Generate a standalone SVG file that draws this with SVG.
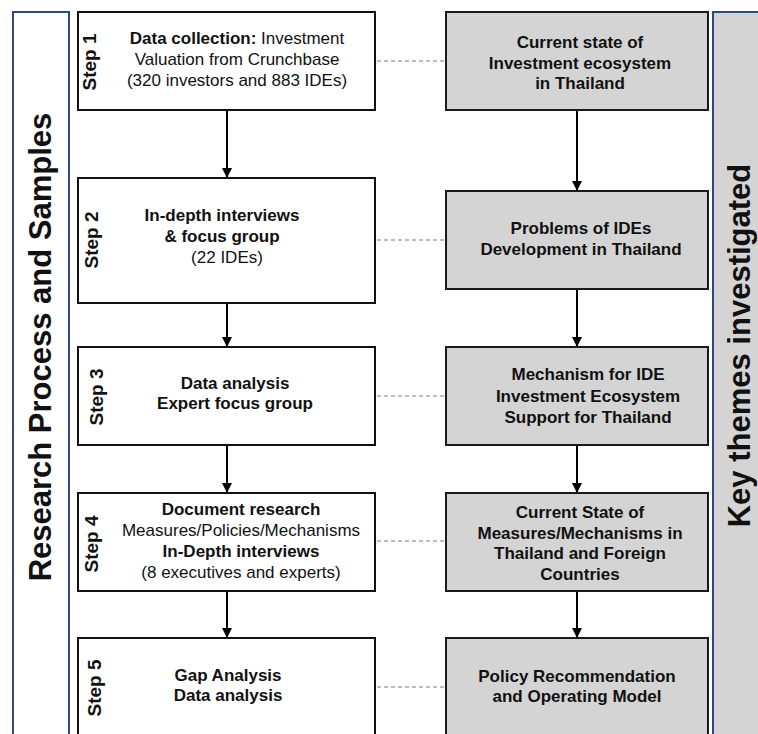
<svg xmlns="http://www.w3.org/2000/svg" width="758" height="734" viewBox="0 0 758 734">
<style>
text{font-family:"Liberation Sans",Arial,sans-serif;fill:#111}
.t{font-size:17px;text-anchor:middle}
.b{font-weight:bold}
.step{font-size:19px;font-weight:bold;text-anchor:middle}
.title{font-size:31px;font-weight:bold;text-anchor:middle}
.wbox{fill:#fff;stroke:#111;stroke-width:2}
.gbox{fill:#d4d4d4;stroke:#1a1a1a;stroke-width:2}
.panel{stroke:#2f4b7c;stroke-width:2}
.arrow{stroke:#000;stroke-width:2;fill:none;marker-end:url(#ah)}
.dash{stroke:#7f7f7f;stroke-width:1.2;stroke-dasharray:4 3;fill:none}
</style>
<defs>
<marker id="ah" markerUnits="userSpaceOnUse" markerWidth="10" markerHeight="10" refX="10" refY="5" orient="auto">
<path d="M0,0 L10,5 L0,10 z" fill="#000"/>
</marker>
</defs>
<rect width="758" height="734" fill="#fff"/>
<g id="panel-left">
<rect class="panel" x="13" y="12" width="56" height="740" fill="#fff"/>
<text class="title" transform="translate(51,347) rotate(-90)">Research Process and Samples</text>
</g>
<g id="panel-right">
<rect class="panel" x="713" y="12" width="60" height="740" fill="#d4d4d4"/>
<text class="title" transform="translate(750,345.5) rotate(-90)">Key themes investigated</text>
</g>
<g id="connectors">
<line class="arrow" x1="227" y1="111" x2="227" y2="178"/>
<line class="arrow" x1="227" y1="304" x2="227" y2="347"/>
<line class="arrow" x1="227" y1="446" x2="227" y2="493"/>
<line class="arrow" x1="227" y1="592" x2="227" y2="638"/>
<line class="arrow" x1="577" y1="111" x2="577" y2="191"/>
<line class="arrow" x1="577" y1="290" x2="577" y2="347"/>
<line class="arrow" x1="577" y1="446" x2="577" y2="493"/>
<line class="arrow" x1="577" y1="592" x2="577" y2="638"/>
<line class="dash" x1="377" y1="61" x2="446" y2="61"/>
<line class="dash" x1="377" y1="240" x2="446" y2="240"/>
<line class="dash" x1="377" y1="396" x2="446" y2="396"/>
<line class="dash" x1="377" y1="541" x2="446" y2="541"/>
<line class="dash" x1="377" y1="687" x2="446" y2="687"/>
</g>
<g id="step1">
<rect class="wbox" x="78" y="12" width="297" height="98"/>
<text class="step" transform="translate(96,62) rotate(-90)">Step 1</text>
<text class="t" x="237" y="44"><tspan class="b">Data collection:</tspan> Investment</text>
<text class="t" x="237" y="65">Valuation from Crunchbase</text>
<text class="t" x="237" y="86">(320 investors and 883 IDEs)</text>
</g>
<g id="step2">
<rect class="wbox" x="78" y="178" width="297" height="125"/>
<text class="step" transform="translate(98,240) rotate(-90)">Step 2</text>
<text class="t b" x="222" y="221">In-depth interviews</text>
<text class="t b" x="222" y="242">&amp; focus group</text>
<text class="t" x="227" y="263">(22 IDEs)</text>
</g>
<g id="step3">
<rect class="wbox" x="78" y="347" width="297" height="98"/>
<text class="step" transform="translate(103,397) rotate(-90)">Step 3</text>
<text class="t b" x="235" y="389">Data analysis</text>
<text class="t b" x="235" y="409">Expert focus group</text>
</g>
<g id="step4">
<rect class="wbox" x="78" y="493" width="297" height="98"/>
<text class="step" transform="translate(98,544) rotate(-90)">Step 4</text>
<text class="t b" x="241" y="515">Document research</text>
<text class="t" x="241" y="536">Measures/Policies/Mechanisms</text>
<text class="t b" x="241" y="557">In-Depth interviews</text>
<text class="t" x="241" y="578">(8 executives and experts)</text>
</g>
<g id="step5">
<rect class="wbox" x="78" y="638" width="297" height="120"/>
<text class="step" transform="translate(101,688) rotate(-90)">Step 5</text>
<text class="t b" x="228" y="681">Gap Analysis</text>
<text class="t b" x="228" y="701">Data analysis</text>
</g>
<g id="theme1">
<rect class="gbox" x="446" y="12" width="262" height="98"/>
<text class="t b" x="580" y="48">Current state of</text>
<text class="t b" x="580" y="69">Investment ecosystem</text>
<text class="t b" x="580" y="89">in Thailand</text>
</g>
<g id="theme2">
<rect class="gbox" x="446" y="191" width="262" height="98"/>
<text class="t b" x="581" y="234">Problems of IDEs</text>
<text class="t b" x="581" y="255">Development in Thailand</text>
</g>
<g id="theme3">
<rect class="gbox" x="446" y="347" width="262" height="98"/>
<text class="t b" x="588" y="380">Mechanism for IDE</text>
<text class="t b" x="588" y="402">Investment Ecosystem</text>
<text class="t b" x="588" y="423">Support for Thailand</text>
</g>
<g id="theme4">
<rect class="gbox" x="446" y="493" width="262" height="98"/>
<text class="t b" x="580" y="518">Current State of</text>
<text class="t b" x="580" y="539">Measures/Mechanisms in</text>
<text class="t b" x="580" y="559">Thailand and Foreign</text>
<text class="t b" x="580" y="580">Countries</text>
</g>
<g id="theme5">
<rect class="gbox" x="446" y="638" width="262" height="120"/>
<text class="t b" x="577" y="682">Policy Recommendation</text>
<text class="t b" x="577" y="702">and Operating Model</text>
</g>
</svg>
